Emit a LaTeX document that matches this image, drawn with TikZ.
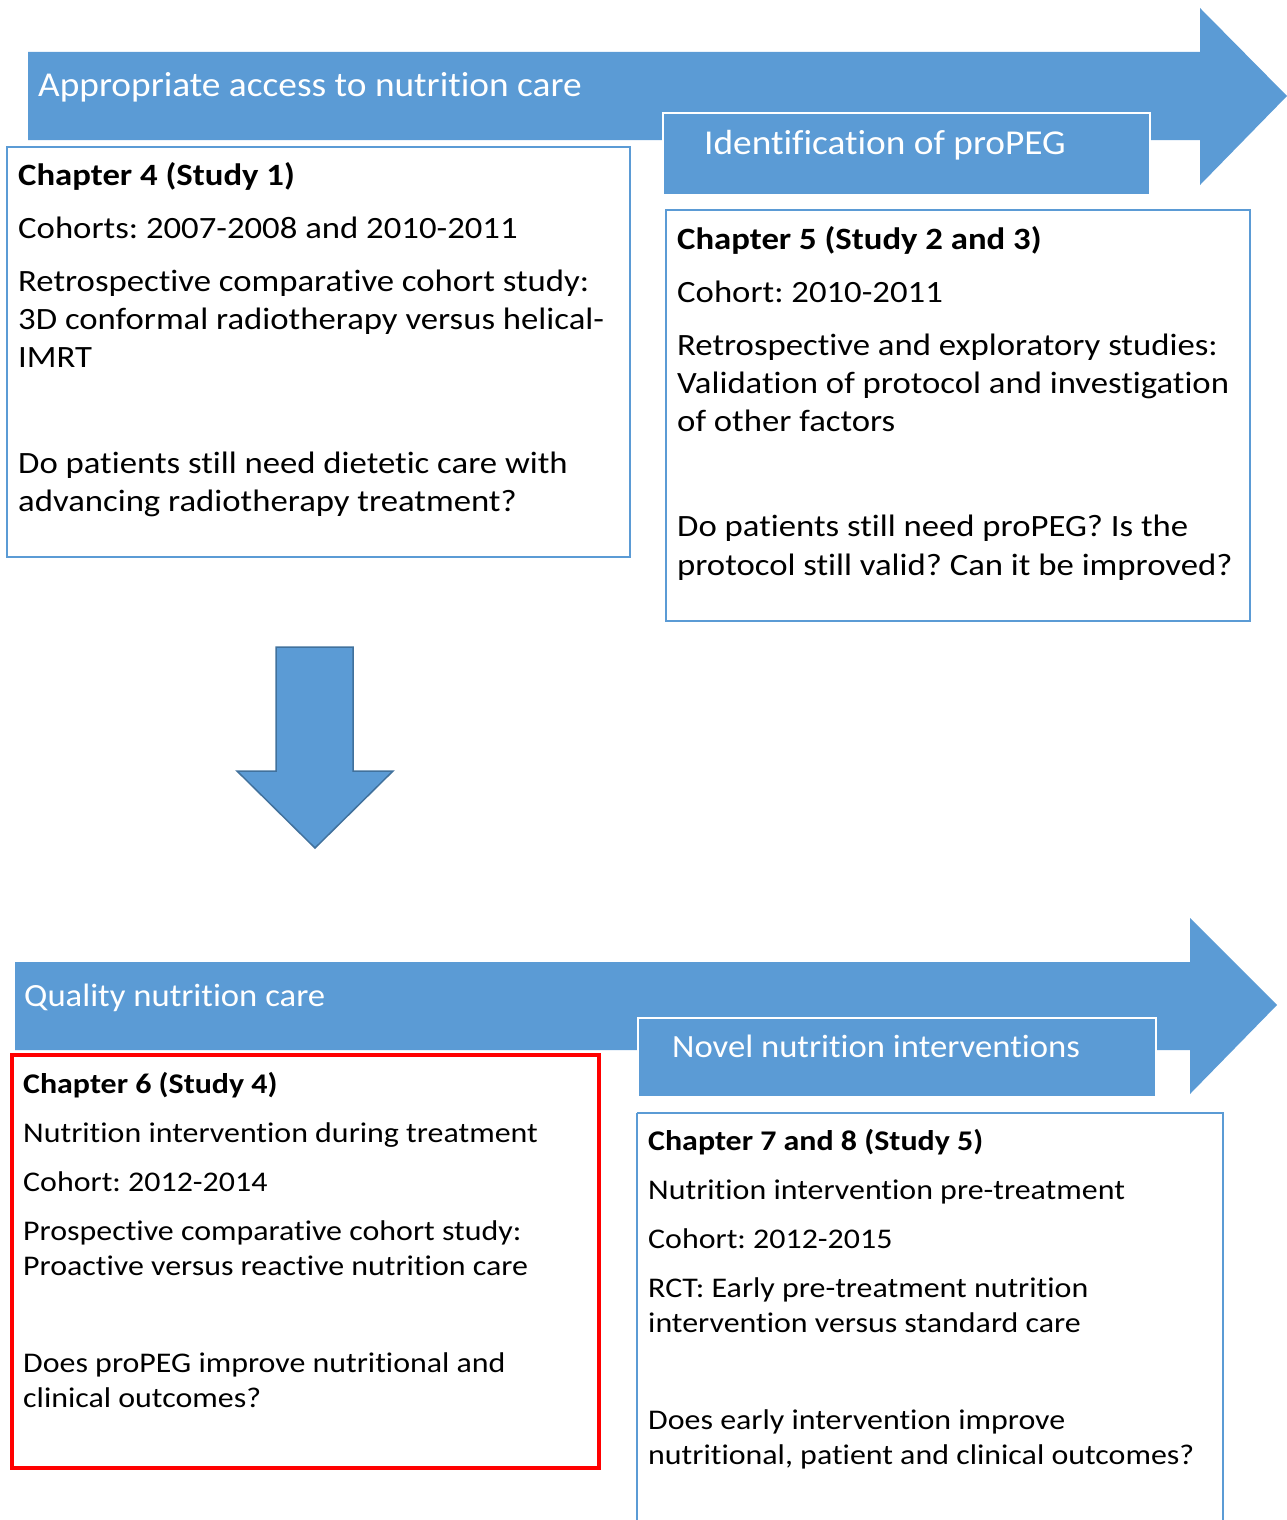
\documentclass[tikz,border=0pt]{standalone}
\usepackage{fontspec}
\setmainfont{Carlito}[Ligatures=NoCommon]
\newfontfamily\bodyf{Carlito}[Ligatures=NoCommon,FakeStretch=1.12]
\newfontfamily\smallf{Carlito}[Ligatures=NoCommon,FakeStretch=1.12]
\newfontfamily\bannerf{Carlito}[Ligatures=NoCommon,FakeStretch=1.07]
\frenchspacing
\definecolor{obl}{HTML}{5B9BD5}
\definecolor{obd}{HTML}{41719C}
\definecolor{ored}{HTML}{FF0000}
\begin{document}
\begin{tikzpicture}[x=1pt,y=-1pt,
  bigtxt/.style={anchor=mid west,inner sep=0pt,yshift=-8pt,font=\bodyf\fontsize{31}{37}\selectfont},
  bigbold/.style={bigtxt,font=\bodyf\fontsize{31}{37}\selectfont\bfseries},
  smalltxt/.style={anchor=mid west,inner sep=0pt,yshift=-8pt,font=\smallf\fontsize{28.5}{34}\selectfont},
  smallbold/.style={smalltxt,font=\smallf\fontsize{28.5}{34}\selectfont\bfseries},
  bannertxt/.style={anchor=mid west,inner sep=0pt,yshift=-7pt,text=white,font=\bannerf\fontsize{34.9}{41}\selectfont},
  bannerlow/.style={anchor=mid west,inner sep=0pt,yshift=-7pt,text=white,font=\bannerf\fontsize{32.4}{38}\selectfont},
  bluebox/.style={draw=obl,line width=2pt,fill=white},
  subbanner/.style={fill=obl,draw=white,line width=1.5pt}]
\useasboundingbox (0,0) rectangle (1287,1520);
% top arrow
\fill[obl] (28,52) -- (1200,52) -- (1200,8) -- (1287,96) -- (1200,185) -- (1200,140) -- (28,140) -- cycle;
\node[bannertxt] (t1) at (38,87) {Appropriate access to nutrition care};
\draw[subbanner] (663,113) rectangle (1150,195);
\node[bannertxt] (t2) at (704,145) {Identification of proPEG};
% chapter 4
\draw[bluebox] (7,147) rectangle (630,557);
\node[bigbold] (c4a) at (18,175) {Chapter 4 (Study 1)};
\node[bigtxt] (c4b) at (18,228) {Cohorts: 2007-2008 and 2010-2011};
\node[bigtxt] (c4c) at (18,281) {Retrospective comparative cohort study:};
\node[bigtxt] (c4d) at (18,319) {3D conformal radiotherapy versus helical-};
\node[bigtxt] (c4e) at (18,357) {IMRT};
\node[bigtxt] (c4f) at (18,463) {Do patients still need dietetic care with};
\node[bigtxt] (c4g) at (18,501) {advancing radiotherapy treatment?};
% chapter 5
\draw[bluebox] (666,210) rectangle (1250,621);
\node[bigbold] (c5a) at (677,239) {Chapter 5 (Study 2 and 3)};
\node[bigtxt] (c5b) at (677,292) {Cohort: 2010-2011};
\node[bigtxt] (c5c) at (677,345) {Retrospective and exploratory studies:};
\node[bigtxt] (c5d) at (677,383) {Validation of protocol and investigation};
\node[bigtxt] (c5e) at (677,421) {of other factors};
\node[bigtxt] (c5f) at (677,526) {Do patients still need proPEG? Is the};
\node[bigtxt] (c5g) at (677,565) {protocol still valid? Can it be improved?};
% down arrow
\draw[fill=obl,draw=obd,line width=1.5pt,line join=miter] (276,647) -- (353,647) -- (353,771) -- (393,771) -- (315,848) -- (237,771) -- (276,771) -- cycle;
% bottom arrow
\fill[obl] (15,962) -- (1190,962) -- (1190,918) -- (1277,1005) -- (1190,1094) -- (1190,1050) -- (15,1050) -- cycle;
\node[bannerlow] (t3) at (24,997) {Quality nutrition care};
\draw[subbanner] (638,1018) rectangle (1156,1097);
\node[bannerlow] (t4) at (672,1048) {Novel nutrition interventions};
% chapter 6
\draw[draw=ored,line width=4pt,fill=white] (12,1055) rectangle (599,1468);
\node[smallbold] (c6a) at (23,1083) {Chapter 6 (Study 4)};
\node[smalltxt] (c6b) at (23,1132) {Nutrition intervention during treatment};
\node[smalltxt] (c6c) at (23,1181) {Cohort: 2012-2014};
\node[smalltxt] (c6d) at (23,1230) {Prospective comparative cohort study:};
\node[smalltxt] (c6e) at (23,1265) {Proactive versus reactive nutrition care};
\node[smalltxt] (c6f) at (23,1362) {Does proPEG improve nutritional and};
\node[smalltxt] (c6g) at (23,1397) {clinical outcomes?};
% chapter 7 and 8
\draw[bluebox] (637,1113) -- (1223,1113) -- (1223,1530) (637,1113) -- (637,1530);
\node[smallbold] (c7a) at (648,1140) {Chapter 7 and 8 (Study 5)};
\node[smalltxt] (c7b) at (648,1189) {Nutrition intervention pre-treatment};
\node[smalltxt] (c7c) at (648,1238) {Cohort: 2012-2015};
\node[smalltxt] (c7d) at (648,1287) {RCT: Early pre-treatment nutrition};
\node[smalltxt] (c7e) at (648,1322) {intervention versus standard care};
\node[smalltxt] (c7f) at (648,1419) {Does early intervention improve};
\node[smalltxt] (c7g) at (648,1454) {nutritional, patient and clinical outcomes?};
\end{tikzpicture}
\end{document}
